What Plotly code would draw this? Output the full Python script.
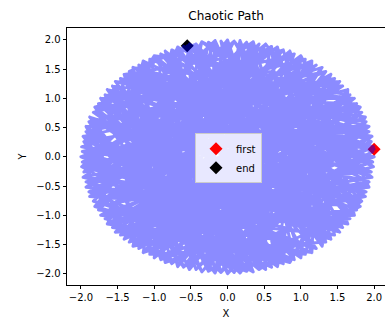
import plotly.graph_objects as go

# Path vertices
x_path = [
    2.00, -1.41, -0.68, 0.35, 0.68, -1.88, 1.73, -0.55, -1.41, 1.93,
    -1.93, 0.68, 1.12, -1.97, 1.41, -1.00, -1.20, 1.73, -1.73, 0.52,
    0.17, 0.05, -1.64, 1.97, -1.29, -0.85, 0.72, 1.15, -2.00, 1.15,
    -0.17, -0.30, -1.15, 1.99, -1.64, 0.17, 0.10, 1.53, -1.97, 1.64,
    -0.98, -0.68, -1.29, 1.88, 1.32, 0.85, -1.81, 0.85, 1.88, -0.52,
    -1.81, -0.17, 0.35, 0.62, -1.53, 1.99, -1.15, -1.42, -0.52, 1.29,
    -1.99, 0.92, 1.29, -0.52, -1.00, 0.40, 1.97, -1.53, 0.35, -0.78,
    0.52, -1.93, 1.81, -0.22, -0.85, 0.00, 1.64, 1.58, -1.88, 1.00,
    0.00, -1.58, -1.73, 1.93, 1.00, 0.22, -1.99, 1.53, -1.41, -0.08,
    1.81, -1.29, 1.02, -1.00, 0.68, -1.93, -1.08, 2.00, -1.81, 0.00,
    0.48, -0.35, -1.73, 1.41, -0.42, 1.41, -1.15, -0.68, 1.48, 1.73,
    -1.97, 0.68, -0.88, 0.17, -1.64, 1.97, 0.18, -1.53, 1.93, -2.00,
    1.05, 1.00, 1.15, -0.68, -1.25, -1.29, 1.88, -1.88, 0.78, 0.35,
    0.52, -1.97, -0.15, 1.73, -1.00, -0.35, 1.25, 1.15, -1.64, 1.99,
    -0.62, -1.81, -0.17, 0.85, 0.55, 1.64, -1.99, -0.17, -1.05, 0.85,
    -1.15, 1.99, 0.32, -1.41, 1.53, -1.93, 1.35, 1.29, 0.17, -0.52,
    -0.35, -1.53, 1.88, -1.73, 0.85, 1.81, -0.85, 0.35, -1.65, -1.99,
    1.29, -0.85, 0.95, -0.52, 1.53, -1.88, -0.48, 1.97, -1.29, 0.52,
    1.62, 0.00, -1.41, 1.93, -0.72, -1.81, 1.00, 0.68, 0.25, -2.00,
    1.64, -0.35, -1.35, -1.00, 1.73, -1.53, 1.15, 2.00, -1.73, 1.00,
    -0.25, 0.00, -1.00, 1.41, 0.65, -1.97, 0.68, 1.41, -0.95, -1.93,
    0.17, 1.81, -1.22, -1.64, -0.35, 1.97, 0.45, -0.68, -1.29, 1.93,
    0.08, 0.52, -1.64, 1.81, -0.55, -1.88, 1.15, -1.15, 1.45, 1.29,
    -0.68, -0.17, 0.88, 1.73, -1.99, 0.35, -0.82, 0.85, -1.81, 1.99,
    0.15, -1.41, 0.85, 1.64, -1.48, -1.97, 1.53, -0.52, 0.58,
    -1.96, 1.06, 0.43, -0.35, -1.67, 1.89, -0.91, 1.21, 0.09, -1.34,
    1.96, -0.60, 0.66, -1.98, 1.46, 0.76, -0.95, -0.43, 1.83, -1.57,
    0.25, 1.67, -1.76, 0.43, -0.15, 1.93, -1.21, -1.06, 1.55, 0.09,
    -1.89, 1.34, 0.35, -1.46, 1.98, -0.26, -0.68, 0.91, -1.93, 1.57,
    -0.12, -0.76, 1.76, -1.57, 0.70, 0.60, -1.98, 1.21, -0.45, 1.89,
    -0.60, -1.46, 1.00, 0.26, -1.83, 0.76, -1.05, 1.46, -0.09, -1.93,
    0.45, 1.98, -0.91, -1.06, 0.88, 1.34, -1.76, 0.91, -0.55, 0.26,
    -1.67, 1.67, -0.30, -0.26, 1.93, -1.21, -0.80, 1.76, -0.76, -1.96,
    1.30, -0.09, 0.60, -1.89, 0.15, 1.96, -1.34, -0.43, 0.55, 1.06,
    -1.57, 1.21, -1.30, 0.43, -0.26, 1.83, -0.25, -1.83, 0.76, -1.46,
    0.95, 1.98, -0.91, -1.67, 0.40, 0.91, -1.98, 1.57, -0.60, -0.09,
    1.89, -1.34, 1.10, -1.67, 0.26, 0.91, -0.05, -1.96, 1.67, -0.43,
    -1.15, 1.76, -0.60, -1.21, 0.85, 1.93, -1.76, 0.60, -0.70, 1.21,
    -1.89, 1.96, 0.05, -1.06, 1.34, -0.91, 0.70, 0.09, 1.46, -1.93,
    0.20, 1.83, -0.76, -1.46, 1.40, 1.06, -1.83, 0.43, -0.40, 1.89,
    -1.57, -0.26, 0.60, 1.57, -1.98, 0.76, -0.95, -0.76, 1.98, -1.34,
    0.30, 0.60, -1.76, 1.46, -0.35, -1.06, 1.96, 0.26, -1.45, 1.34,
    -0.60, -1.89, 1.05, 1.76, -1.93, 1.21, -0.20, -0.43, 1.67, -1.57,
    0.95, 1.06, -1.83, 1.93, -0.85, -1.21, 0.43, 1.83, -0.10, -1.96,
    0.09, 1.57, -0.50, -0.91, 1.76, -1.67, 0.50, 1.98, -1.34, -0.26,
    -0.55,
]
y_path = [
    0.13, 1.41, -1.88, -0.42, 1.88, -0.68, -1.00, 0.72, -1.41, 0.52,
    0.52, -1.88, 0.48, -0.35, -1.41, 1.73, -0.30, 1.00, 1.00, -1.93,
    1.99, 0.12, -1.15, -0.35, 1.53, -1.81, -1.08, 1.64, 0.00, -1.64,
    1.99, -1.28, -1.64, 0.17, 1.15, -1.99, 1.22, 1.29, 0.35, -1.15,
    1.02, 1.88, -1.53, -0.68, -0.18, 1.81, -0.85, -1.81, 0.68, -0.61,
    0.85, -1.99, 1.97, 0.88, -1.29, -0.17, 1.64, 0.38, -1.93, 1.53,
    0.17, -0.58, -1.53, 1.93, -1.73, 0.28, 0.35, 1.29, -1.97, -1.18,
    1.93, -0.52, -0.85, 0.58, 1.81, -2.00, 1.15, -0.72, 0.68, -1.73,
    2.00, -0.88, -1.00, -0.52, 1.73, -1.68, -0.17, -1.29, 1.41, 1.68,
    0.85, -1.53, 1.38, 1.73, -1.88, 0.52, -1.48, 0.00, -0.85, 2.00,
    -0.82, -1.97, 1.00, -1.41, 0.15, 1.41, -1.64, 1.88, 0.42, -1.00,
    -0.35, 1.88, 0.28, -1.99, 1.15, -0.35, 0.82, -1.29, 0.52, 0.00,
    -1.22, -1.73, 1.64, -1.88, 0.78, 1.53, -0.68, -0.68, 0.15, 1.97,
    -1.93, 0.35, -0.92, 1.00, -1.73, 1.97, 0.95, -1.64, -1.15, 0.17,
    1.35, 0.85, -1.99, 1.81, -0.25, -1.15, -0.17, 1.99, -0.82, -1.81,
    1.64, -0.17, 1.45, -1.41, 1.29, -0.52, -0.98, -1.53, 1.99, -1.93,
    0.95, 1.29, 0.68, -1.00, -1.45, -0.85, 1.81, -1.97, 0.12, 0.17,
    1.53, -1.81, 0.62, 1.93, -1.29, 0.68, -1.55, 0.35, -1.53, 1.93,
    0.18, -2.00, 1.41, -0.52, -0.12, -0.85, 1.73, -1.88, 0.55, 0.00,
    1.15, -1.97, 1.05, 1.73, -1.00, -1.29, 0.05, 0.00, 1.00, -1.73,
    -0.35, 2.00, -1.73, 1.41, -0.72, -0.35, 1.88, -1.41, 0.55, 0.52,
    -1.99, 0.85, -1.05, -1.15, 1.97, -0.35, 1.05, -1.88, 1.53, 0.52,
    -1.15, -1.93, 1.15, -0.85, 0.38, -0.68, 1.64, -1.64, -0.45, -1.53,
    1.88, -1.99, 1.12, 1.00, -0.17, 1.97, -0.45, -1.81, 0.85, 0.17,
    -0.55, -1.41, 1.81, -1.15, -0.45, 0.35, 1.29, -1.93, 0.45,
    -0.26, 1.67, -1.93, 0.22, 1.06, -0.60, -1.76, 0.30, 1.98, -1.46,
    0.26, 1.89, -0.35, 0.09, -1.34, 1.83, -0.20, -1.93, 0.76, 1.21,
    -1.02, -1.06, -0.91, 1.93, 0.35, 0.43, -1.57, 1.67, 0.55, -1.98,
    0.60, 1.46, -0.08, -1.34, -0.09, 1.96, -0.95, -1.76, -0.43, 1.21,
    -0.22, 1.83, -0.91, -1.21, 0.62, 1.89, -0.09, -1.57, 1.15, 0.60,
    -1.89, 1.34, -0.20, 1.96, -0.76, -1.83, 0.35, 1.34, -1.98, 0.43,
    -1.35, 0.09, 1.76, -1.67, 0.30, -1.46, 0.91, 1.76, -0.28, -1.96,
    -1.06, 1.06, 1.40, -1.96, -0.43, 1.57, -0.70, 0.91, -1.83, 0.26,
    -0.60, 1.98, -1.89, -0.60, 0.70, -0.26, 1.46, 1.93, -0.55, -1.67,
    -1.21, 1.57, -0.10, -1.93, 1.96, -0.76, -0.65, 0.76, 1.83, -1.34,
    -0.95, 0.09, -1.76, 1.06, 0.10, 1.76, -0.09, -1.21, 0.50, -1.98,
    0.60, 1.46, -0.35, -1.06, 1.96, -1.76, -0.40, 0.26, 1.06, -1.93,
    0.60, -0.91, 1.89, -1.57, 0.80, 0.43, 0.91, -1.89, -0.35, 1.57,
    -0.60, -0.26, 0.95, -1.67, -1.46, 1.76, -0.15, -1.98, 1.34, 0.43,
    -0.80, 0.76, -1.83, 1.34, 0.15, -1.67, -0.76, 1.93, -0.10, -0.60,
    1.21, -1.96, 1.25, 1.21, 0.09, -1.83, 0.80, 1.83, -0.09, -1.46,
    0.40, 1.89, -0.91, -1.34, -1.10, 1.67, 0.26, -1.96, 0.05, 1.46,
    -1.89, 0.60, -0.70, 0.91, -0.43, -1.57, 0.20, 1.93, -1.06, -1.21,
    1.10, 1.67, 0.76, -0.43, -1.00, 1.57, -1.93, -0.76, 0.55, -0.26,
    1.98, -1.21, 0.05, -1.76, 0.91, 1.06, -1.10, 0.09, 1.46, -1.96,
    1.90,
]

marker_names = ["first", "end"]
marker_colors = ["red", "black"]

x_ticks = [-2.0, -1.5, -1.0, -0.5, 0.0, 0.5, 1.0, 1.5, 2.0]
y_ticks = [-2.0, -1.5, -1.0, -0.5, 0.0, 0.5, 1.0, 1.5, 2.0]

FONT = "DejaVu Sans"

fig = go.Figure()

# first / end markers (drawn below the path, like the reference)
fig.add_trace(go.Scatter(
    x=[x_path[0]], y=[y_path[0]], mode="markers", name=marker_names[0],
    marker=dict(symbol="diamond", size=10, color=marker_colors[0], line=dict(width=0)),
))
fig.add_trace(go.Scatter(
    x=[x_path[-1]], y=[y_path[-1]], mode="markers", name=marker_names[1],
    marker=dict(symbol="diamond", size=10, color=marker_colors[1], line=dict(width=0)),
))

# the path
fig.add_trace(go.Scatter(
    x=x_path, y=y_path, mode="lines", showlegend=False, hoverinfo="skip",
    line=dict(color="blue", width=3), opacity=0.45,
))

axis_common = dict(
    showgrid=False, zeroline=False, showline=True, linecolor="black", linewidth=0.8,
    ticks="outside", ticklen=3.5, tickwidth=0.8, tickcolor="black",
    tickfont=dict(family=FONT, size=10, color="black"),
    tickformat=".1f", automargin=False,
)

fig.update_layout(
    width=385, height=320,
    margin=dict(l=67, r=0, t=28, b=35, autoexpand=False),
    paper_bgcolor="white", plot_bgcolor="white",
    font=dict(family=FONT, size=10, color="black"),
    title=dict(text="Chaotic Path", x=0.5, xref="paper", y=1 - 16 / 320, yref="container",
               xanchor="center", yanchor="middle",
               font=dict(family=FONT, size=12, color="black")),
    xaxis=dict(range=[-2.19, 2.148], tickvals=x_ticks, mirror=True,
               title=dict(text="X", font=dict(family=FONT, size=10), standoff=7),
               **axis_common),
    yaxis=dict(range=[-2.195, 2.205], tickvals=y_ticks,
               title=dict(text="Y", font=dict(family=FONT, size=10), standoff=7),
               **axis_common),
    legend=dict(x=0.4025, y=0.59, xanchor="left", yanchor="top",
                bgcolor="rgba(255,255,255,0.8)", bordercolor="#cccccc", borderwidth=1,
                font=dict(family=FONT, size=10, color="black")),
    showlegend=True,
)

page_fix = (
    "document.body.style.margin='0';"
    "document.querySelectorAll('path.js-line').forEach(function(p)"
    "{p.style.strokeLinejoin='round';p.style.strokeLinecap='round';});"
)

fig.write_html("out.html", post_script=page_fix, config={"displayModeBar": False})
